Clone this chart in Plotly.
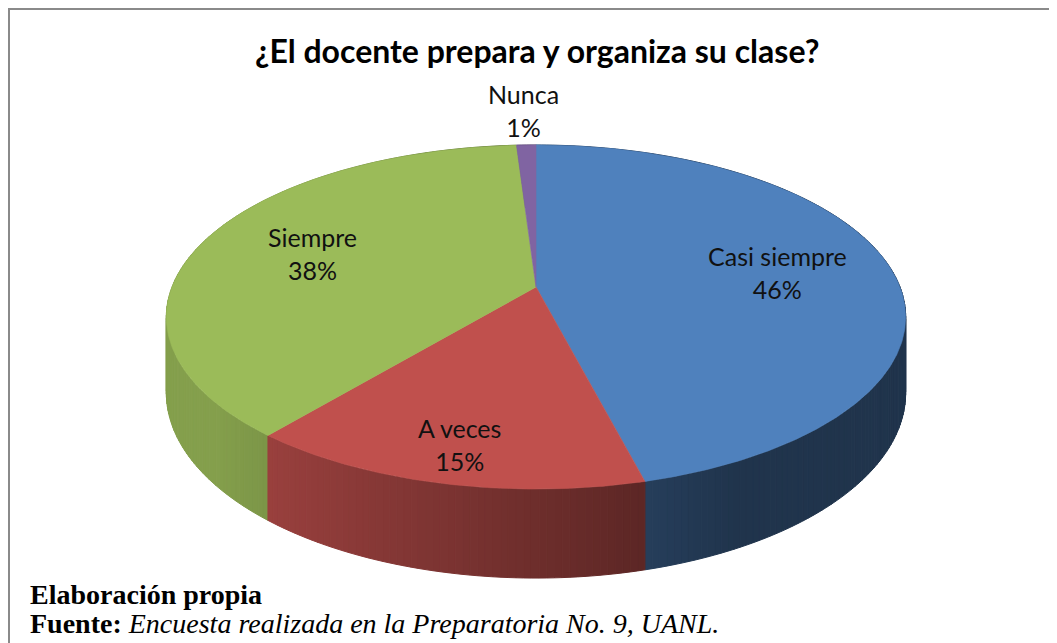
import numpy as np
import plotly.graph_objects as go

# ---- data ----
categories = ["Casi siempre", "A veces", "Siempre", "Nunca"]
values = [46, 15, 38, 1]
colors = ["#4F81BD", "#C0504D", "#9BBB59", "#8064A2"]
title_text = "¿El docente prepara y organiza su clase?"
note_line1 = "Elaboración propia"
note_label = "Fuente:"
note_text = "Encuesta realizada en la Preparatoria No. 9, UANL."

# ---- geometry / style (layout, not data) ----
W, H = 1057, 643
OFF = 8.0                  # page body margin
CX, CY = 536.0, 287.0      # projected pie centre (page px)
A, B = 364.0, 166.8        # projected radii
K = 0.1744                 # perspective strength
DEPTH = 73.5               # pie thickness
LABEL_R = [0.68, 0.83, 0.67, 1.30]


def px(x):
    return (x - OFF) / W


def py(y):
    return 1 - (y - OFF) / H


def proj(u, v, drop=0.0):
    den = 1.0 - K * v
    return CX + A * u / den, CY + (B * v + drop) / den


def hex_rgb(h):
    h = h.lstrip("#")
    return tuple(int(h[i:i + 2], 16) for i in (0, 2, 4))


def shade(hexcol, f):
    r, g, b = hex_rgb(hexcol)
    return "rgb(%d,%d,%d)" % (round(r * f), round(g * f), round(b * f))


total = float(sum(values))
fracs = [v / total for v in values]
starts = np.cumsum([0.0] + fracs[:-1]) * 2 * np.pi
ends = starts + np.array(fracs) * 2 * np.pi

fig = go.Figure()

# side strips
strips = []
for i, (s, e) in enumerate(zip(starts, ends)):
    n = max(2, int(np.ceil((e - s) / np.radians(1.0))))
    th = np.linspace(s, e, n + 1)
    for j in range(n):
        t1, t2 = th[j], th[j + 1]
        u1, v1 = np.sin(t1), -np.cos(t1)
        u2, v2 = np.sin(t2), -np.cos(t2)
        um = np.sin((t1 + t2) / 2)
        vm = -np.cos((t1 + t2) / 2)
        p1 = proj(u1, v1)
        p2 = proj(u2, v2)
        p3 = proj(u2, v2, DEPTH)
        p4 = proj(u1, v1, DEPTH)
        f = float(np.clip(0.57 - 0.36 * um, 0.40, 0.85))
        strips.append((vm, [p1[0], p2[0], p3[0], p4[0], p1[0]],
                       [p1[1], p2[1], p3[1], p4[1], p1[1]], shade(colors[i], f)))

strips.sort(key=lambda s: s[0])
for vm, xs, ys, c in strips:
    fig.add_trace(go.Scatter(x=xs, y=ys, mode="lines", fill="toself",
                             fillcolor=c, line=dict(color=c, width=1),
                             hoverinfo="skip", showlegend=False))

# top faces
for i, (s, e) in enumerate(zip(starts, ends)):
    th = np.linspace(s, e, max(3, int(np.degrees(e - s) * 2)))
    pts = [proj(np.sin(t), -np.cos(t)) for t in th]
    xs = [CX] + [p[0] for p in pts] + [CX]
    ys = [CY] + [p[1] for p in pts] + [CY]
    fig.add_trace(go.Scatter(x=xs, y=ys, mode="lines", fill="toself",
                             fillcolor=colors[i], line=dict(color=colors[i], width=0.6),
                             hoverinfo="text", text=f"{categories[i]}: {values[i]}%",
                             showlegend=False))

# data labels
for i, (s, e) in enumerate(zip(starts, ends)):
    m = (s + e) / 2
    r = LABEL_R[i]
    lx, ly = proj(r * np.sin(m), -r * np.cos(m))
    fig.add_annotation(x=lx, y=ly, xref="x", yref="y", showarrow=False,
                       text=f"{categories[i]}<br>{values[i]}%",
                       font=dict(family="Lato", size=25, color="#111111"),
                       xanchor="center", yanchor="middle", align="center")

# title
fig.add_annotation(x=px(536.5), y=py(50), xref="paper", yref="paper", showarrow=False,
                   text=f"<b>{title_text}</b>",
                   font=dict(family="Lato", size=32, color="#000000"),
                   xanchor="center", yanchor="middle")

# source notes
fig.add_annotation(x=px(28), y=py(594), xref="paper", yref="paper", showarrow=False,
                   text=f"<b>{note_line1}</b>",
                   font=dict(family="Liberation Serif", size=28, color="#000000"),
                   xanchor="left", yanchor="middle")
fig.add_annotation(x=px(28), y=py(623), xref="paper", yref="paper", showarrow=False,
                   text=f"<b>{note_label}</b> <i>{note_text}</i>",
                   font=dict(family="Liberation Serif", size=28, color="#000000"),
                   xanchor="left", yanchor="middle")

# chart border (as close to the frame edge as the page allows)
fig.add_shape(type="rect", xref="paper", yref="paper",
              x0=px(9), x1=1.05, y0=-0.05, y1=py(9),
              line=dict(color="#8a8a8a", width=2), fillcolor="rgba(0,0,0,0)", layer="above")

fig.update_layout(
    width=W, height=H,
    margin=dict(l=0, r=0, t=0, b=0),
    paper_bgcolor="white", plot_bgcolor="white",
    xaxis=dict(range=[OFF, W + OFF], visible=False, fixedrange=True),
    yaxis=dict(range=[H + OFF, OFF], visible=False, fixedrange=True),
    showlegend=False,
)

fig.write_html("out.html")
